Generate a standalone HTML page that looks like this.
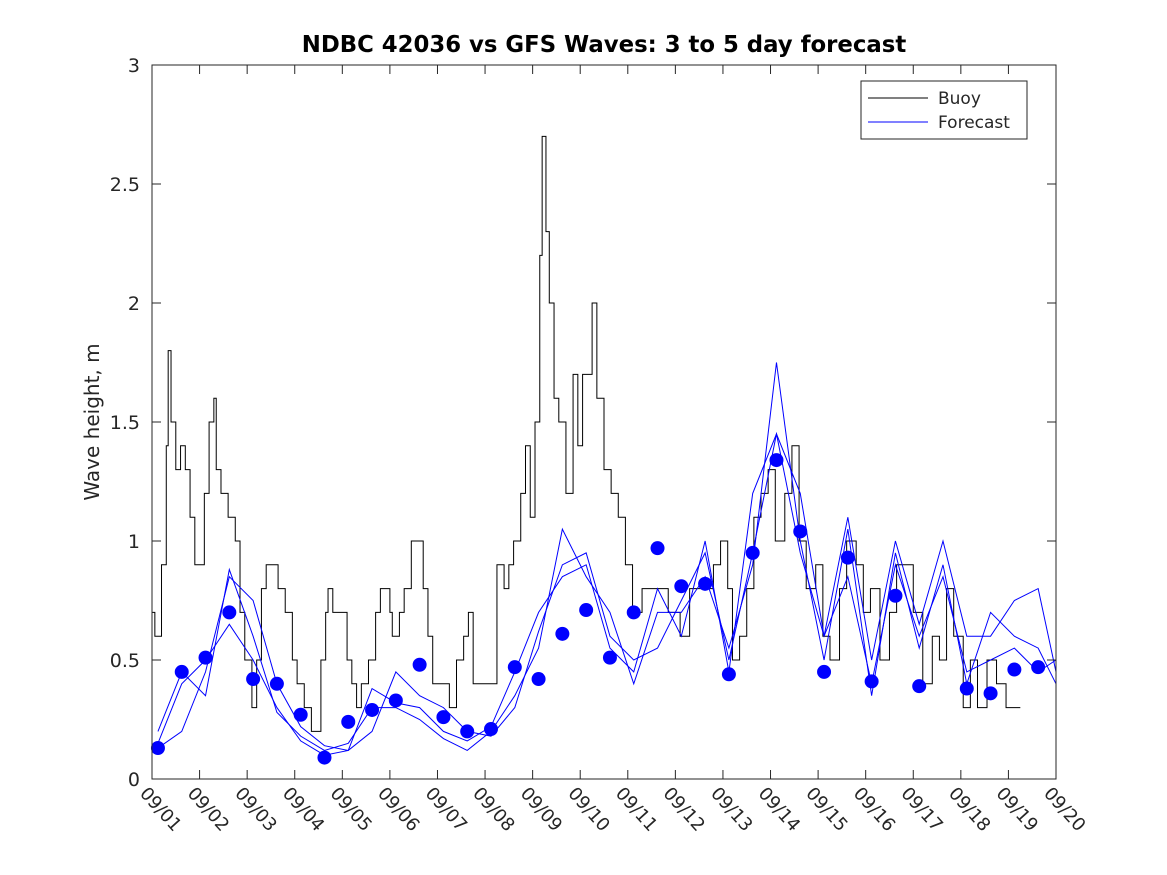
<!DOCTYPE html>
<html><head><meta charset="utf-8"><style>
body{margin:0;background:#fff;}
svg{display:block;font-family:"DejaVu Sans","Liberation Sans",sans-serif;}
</style></head><body>
<svg id="chart" width="1167" height="875">
<rect width="1167" height="875" fill="#fff"/>
<text x="604" y="52" text-anchor="middle" font-size="22.8" font-weight="bold">NDBC 42036 vs GFS Waves: 3 to 5 day forecast</text>
<text transform="translate(99,422) rotate(-90)" text-anchor="middle" font-size="20" fill="#262626">Wave height, m</text>
<g id="plot"></g>
<g id="axes"></g>
<g>
<rect x="861" y="81" width="166" height="58" fill="#fff" stroke="#262626" stroke-width="1"/>
<line x1="868" y1="98" x2="928" y2="98" stroke="#000"/>
<text x="938" y="104" font-size="17" fill="#262626">Buoy</text>
<line x1="868" y1="122" x2="928" y2="122" stroke="#00f"/>
<text x="938" y="128" font-size="17" fill="#262626">Forecast</text>
</g>
</svg>
<script>
const xTickLabels=["09/01","09/02","09/03","09/04","09/05","09/06","09/07","09/08","09/09","09/10","09/11","09/12","09/13","09/14","09/15","09/16","09/17","09/18","09/19","09/20"];
const yTicks=[0,0.5,1,1.5,2,2.5,3];
const buoyDays=[0,0.06,0.2,0.3,0.34,0.4,0.5,0.6,0.7,0.8,0.9,1.0,1.1,1.2,1.3,1.35,1.45,1.6,1.75,1.85,1.95,2.1,2.2,2.3,2.4,2.5,2.65,2.8,2.95,3.05,3.2,3.35,3.5,3.55,3.65,3.7,3.8,4.0,4.1,4.2,4.3,4.4,4.55,4.7,4.8,5.0,5.05,5.2,5.3,5.45,5.6,5.7,5.8,5.9,6.1,6.25,6.4,6.55,6.65,6.75,6.9,7.1,7.25,7.4,7.5,7.6,7.75,7.85,7.95,8.05,8.15,8.2,8.28,8.35,8.45,8.55,8.7,8.85,8.95,9.05,9.15,9.25,9.35,9.5,9.65,9.8,9.95,10.1,10.3,10.6,10.85,11.1,11.3,11.6,11.8,11.95,12.1,12.2,12.35,12.5,12.65,12.8,12.95,13.1,13.3,13.45,13.6,13.75,13.95,14.1,14.25,14.45,14.6,14.8,14.95,15.1,15.3,15.5,15.65,15.85,16.0,16.2,16.4,16.55,16.7,16.85,17.05,17.2,17.35,17.55,17.75,17.95,18.2,18.25];
const buoyHeights=[0.7,0.6,0.9,1.4,1.8,1.5,1.3,1.4,1.3,1.1,0.9,0.9,1.2,1.5,1.6,1.3,1.2,1.1,1.0,0.7,0.5,0.3,0.5,0.8,0.9,0.9,0.8,0.7,0.5,0.4,0.3,0.2,0.2,0.5,0.7,0.8,0.7,0.7,0.5,0.4,0.3,0.4,0.5,0.7,0.8,0.7,0.6,0.7,0.8,1.0,1.0,0.8,0.6,0.4,0.4,0.3,0.5,0.6,0.7,0.4,0.4,0.4,0.9,0.8,0.9,1.0,1.2,1.4,1.1,1.5,2.2,2.7,2.3,2.0,1.6,1.5,1.2,1.7,1.4,1.7,1.7,2.0,1.6,1.3,1.2,1.1,0.9,0.7,0.8,0.8,0.7,0.6,0.8,0.8,0.9,1.0,0.8,0.5,0.6,0.8,1.1,1.2,1.3,1.0,1.2,1.4,1.0,0.8,0.9,0.6,0.5,0.8,1.0,0.9,0.7,0.8,0.5,0.7,0.9,0.9,0.7,0.4,0.6,0.5,0.8,0.6,0.3,0.5,0.3,0.5,0.4,0.3,0.3,0.3];
const dotValues=[0.13,0.45,0.51,0.70,0.42,0.40,0.27,0.09,0.24,0.29,0.33,0.48,0.26,0.20,0.21,0.47,0.42,0.61,0.71,0.51,0.70,0.97,0.81,0.82,0.44,0.95,1.34,1.04,0.45,0.93,0.41,0.77,0.39,null,0.38,0.36,0.46,0.47];
const forecastA=[0.13,0.2,0.45,0.85,0.75,0.4,0.22,0.14,0.12,0.2,0.45,0.35,0.3,0.2,0.18,0.3,0.62,0.9,0.95,0.6,0.5,0.55,0.75,0.95,0.5,0.95,1.45,1.2,0.6,1.1,0.5,1.0,0.65,1.0,0.6,0.6,0.75,0.8,0.45];
const forecastB=[0.2,0.45,0.35,0.88,0.6,0.28,0.18,0.12,0.15,0.3,0.3,0.25,0.17,0.12,0.2,0.35,0.55,1.05,0.85,0.7,0.4,0.7,0.7,0.85,0.55,0.9,1.75,1.0,0.5,1.05,0.35,0.95,0.55,0.9,0.4,0.7,0.6,0.55,0.4];
const forecastC=[0.15,0.4,0.5,0.65,0.5,0.3,0.16,0.1,0.12,0.38,0.32,0.3,0.2,0.16,0.22,0.45,0.7,0.85,0.9,0.55,0.45,0.8,0.6,1.0,0.45,1.2,1.45,0.95,0.6,0.85,0.4,0.9,0.6,0.85,0.45,0.5,0.55,0.45,0.5];

const L=152,R=1056,T=65,B=779;
const xs=d=>L+(R-L)*d/19;
const ys=v=>B-(B-T)*v/3;
const NS="http://www.w3.org/2000/svg";
const plot=document.getElementById('plot'),axes=document.getElementById('axes');
function mk(tag,attrs,parent){const e=document.createElementNS(NS,tag);for(const k in attrs)e.setAttribute(k,attrs[k]);parent.appendChild(e);return e;}

const box=mk('rect',{x:L,y:T,width:R-L,height:B-T,fill:'none',stroke:'#262626','stroke-width':1},axes);


yTicks.forEach(v=>{
  const y=ys(v);
  mk('line',{x1:L,y1:y,x2:L+9,y2:y,stroke:'#262626'},axes);
  mk('line',{x1:R,y1:y,x2:R-9,y2:y,stroke:'#262626'},axes);
  const t=mk('text',{x:L-12,y:y+7,'text-anchor':'end','font-size':19,fill:'#262626'},axes);
  t.textContent=String(v);
  
  
});
xTickLabels.forEach((lab,i)=>{
  const x=xs(i);
  mk('line',{x1:x,y1:B,x2:x,y2:B-9,stroke:'#262626'},axes);
  mk('line',{x1:x,y1:T,x2:x,y2:T+9,stroke:'#262626'},axes);
  const t=mk('text',{transform:`translate(${x-13},${B+15}) rotate(48)`,'font-size':18,fill:'#262626'},axes);
  t.textContent=lab;
  
  
});

let d='';
buoyDays.forEach((t,i)=>{
  const x=xs(t),y=ys(buoyHeights[i]);
  if(i===0)d+=`M${x},${y}`;else d+=`H${x}V${y}`;
});
const bp=mk('path',{d:d,fill:'none',stroke:'#000','stroke-width':1},plot);



[forecastA,forecastB,forecastC].forEach((arr,k)=>{
  let p='';
  arr.forEach((v,i)=>{const x=Math.min(R,xs(0.125+0.5*i)),y=ys(v);p+=(i?'L':'M')+x+','+y;});
  const e=mk('path',{d:p,fill:'none',stroke:'#00f','stroke-width':1},plot);
  
  
});
dotValues.forEach((v,i)=>{
  if(v===null)return;
  const c=mk('circle',{cx:xs(0.125+0.5*i),cy:ys(v),r:7,fill:'#00f'},plot);
  
  
});
</script>
</body></html>
